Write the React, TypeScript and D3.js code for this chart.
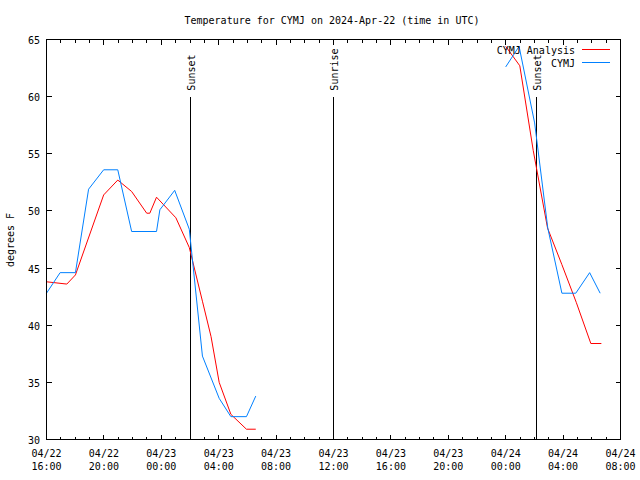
import React from "react";
import * as d3 from "d3";

const TITLE = "Temperature for CYMJ on 2024-Apr-22 (time in UTC)";
const Y_LABEL = "degrees F";
const SERIES_NAMES = ["CYMJ Analysis", "CYMJ"];
const SERIES_COLORS = ["#ff0000", "#0080ff"];

// CYMJ Analysis (red); null marks a data gap
const analysisTimes = [
  "2024-04-22 16:00", "2024-04-22 17:25", "2024-04-22 18:01", "2024-04-22 19:59",
  "2024-04-22 20:58", "2024-04-22 21:56", "2024-04-22 22:59", "2024-04-22 23:12",
  "2024-04-22 23:40", "2024-04-23 01:01", "2024-04-23 01:57", "2024-04-23 02:52",
  "2024-04-23 03:28", "2024-04-23 04:02", "2024-04-23 04:51", "2024-04-23 05:56",
  "2024-04-23 06:35", "2024-04-23 12:00",
  "2024-04-24 00:00", "2024-04-24 00:59", "2024-04-24 01:55", "2024-04-24 02:55",
  "2024-04-24 03:55", "2024-04-24 04:55", "2024-04-24 05:56", "2024-04-24 06:40",
];
const analysisTemps: (number | null)[] = [
  43.8, 43.6, 44.4, 51.4,
  52.7, 51.7, 49.8, 49.8,
  51.2, 49.4, 46.8, 42.1,
  39.0, 35.0, 32.2, 30.9,
  30.9, null,
  64.4, 62.7, 55.3, 48.5,
  45.3, 42.0, 38.4, 38.4,
];

// CYMJ observations (blue)
const obsTimes = [
  "2024-04-22 16:00", "2024-04-22 16:57", "2024-04-22 18:01", "2024-04-22 18:56",
  "2024-04-22 19:59", "2024-04-22 20:58", "2024-04-22 21:56", "2024-04-22 23:40",
  "2024-04-22 23:54", "2024-04-23 00:56", "2024-04-23 01:57", "2024-04-23 02:52",
  "2024-04-23 04:02", "2024-04-23 04:51", "2024-04-23 05:56", "2024-04-23 06:35",
  "2024-04-23 12:00",
  "2024-04-24 00:00", "2024-04-24 00:56", "2024-04-24 02:01", "2024-04-24 02:56",
  "2024-04-24 03:55", "2024-04-24 04:53", "2024-04-24 05:51", "2024-04-24 06:35",
];
const obsTemps: (number | null)[] = [
  42.8, 44.6, 44.6, 51.9,
  53.6, 53.6, 48.2, 48.2,
  50.1, 51.8, 48.4, 37.3,
  33.6, 32.0, 32.0, 33.8,
  null,
  62.6, 64.4, 57.7, 48.5,
  42.8, 42.8, 44.6, 42.8,
];

const eventLabels = ["Sunset", "Sunrise", "Sunset"];
const eventTimes = ["2024-04-23 02:01", "2024-04-23 12:01", "2024-04-24 02:09"];
const eventTopTemp = 60;

const X_START = "2024-04-22 16:00";
const X_END = "2024-04-24 08:00";
const Y_MIN = 30;
const Y_MAX = 65;
const yTickValues = [30, 35, 40, 45, 50, 55, 60, 65];

const parse = d3.utcParse("%Y-%m-%d %H:%M");
const FONT = "'DejaVu Sans Mono', 'Liberation Mono', monospace";

export default function App() {
  const W = 640, H = 480;
  const L = 46.5, R = 620.5, T = 39.5, B = 439.5;

  const x = d3.scaleUtc().domain([parse(X_START)!, parse(X_END)!]).range([L, R]);
  const y = d3.scaleLinear().domain([Y_MIN, Y_MAX]).range([B, T]);

  const majorTicks = d3.utcHour.every(4)!.range(parse(X_START)!, d3.utcHour.offset(parse(X_END)!, 1));
  const minorTicks = d3.utcHour.range(parse(X_START)!, d3.utcHour.offset(parse(X_END)!, 1));
  const fmtDate = d3.utcFormat("%m/%d");
  const fmtTime = d3.utcFormat("%H:%M");

  type P = { t: Date; v: number | null };
  const line = d3
    .line<P>()
    .defined((d) => d.v !== null)
    .x((d) => x(d.t))
    .y((d) => y(d.v as number));

  const analysis: P[] = analysisTimes.map((s, i) => ({ t: parse(s)!, v: analysisTemps[i] }));
  const obs: P[] = obsTimes.map((s, i) => ({ t: parse(s)!, v: obsTemps[i] }));
  const series = [analysis, obs];

  const majLen = 5, minLen = 3;

  return (
    <svg
      width={W}
      height={H}
      style={{ position: "absolute", left: 0, top: 0, background: "#fff" }}
      fontFamily={FONT}
      fontSize={10}
    >
      <rect x={0} y={0} width={W} height={H} fill="#fff" />
      <text x={332} y={24} textAnchor="middle" fill="#000">{TITLE}</text>
      <text transform={`translate(14,240) rotate(-90)`} textAnchor="middle" fill="#000">{Y_LABEL}</text>

      {/* event lines */}
      {eventTimes.map((s, i) => {
        const ex = Math.floor(x(parse(s)!)) + 0.5;
        return (
          <g key={"ev" + i}>
            <line x1={ex} x2={ex} y1={y(eventTopTemp)} y2={B} stroke="#000" strokeWidth={1} shapeRendering="crispEdges" />
            <text transform={`translate(${ex + 4.5},${y(eventTopTemp) - 6}) rotate(-90)`} fill="#000">{eventLabels[i]}</text>
          </g>
        );
      })}

      {/* series */}
      {series.map((d, i) => (
        <path key={"s" + i} d={line(d) || ""} fill="none" stroke={SERIES_COLORS[i]} strokeWidth={1} />
      ))}

      {/* frame */}
      <rect x={L} y={T} width={R - L} height={B - T} fill="none" stroke="#000" strokeWidth={1} shapeRendering="crispEdges" />

      {/* x ticks */}
      {minorTicks.map((t, i) => {
        const tx = x(t);
        return (
          <g key={"mx" + i}>
            <line x1={tx} x2={tx} y1={B} y2={B - minLen} stroke="#000" shapeRendering="crispEdges" />
            <line x1={tx} x2={tx} y1={T} y2={T + minLen} stroke="#000" shapeRendering="crispEdges" />
          </g>
        );
      })}
      {majorTicks.map((t, i) => {
        const tx = x(t);
        return (
          <g key={"Mx" + i}>
            <line x1={tx} x2={tx} y1={B} y2={B - majLen} stroke="#000" shapeRendering="crispEdges" />
            <line x1={tx} x2={tx} y1={T} y2={T + majLen} stroke="#000" shapeRendering="crispEdges" />
            <text x={tx} y={457} textAnchor="middle" fill="#000">{fmtDate(t)}</text>
            <text x={tx} y={470} textAnchor="middle" fill="#000">{fmtTime(t)}</text>
          </g>
        );
      })}

      {/* y ticks */}
      {yTickValues.map((v, i) => {
        const ty = y(v);
        return (
          <g key={"y" + i}>
            <line x1={L} x2={L + majLen} y1={ty} y2={ty} stroke="#000" shapeRendering="crispEdges" />
            <line x1={R} x2={R - majLen} y1={ty} y2={ty} stroke="#000" shapeRendering="crispEdges" />
            <text x={40} y={ty + 4.5} textAnchor="end" fill="#000">{v}</text>
          </g>
        );
      })}

      {/* legend */}
      {SERIES_NAMES.map((n, i) => {
        const ly = 49.5 + i * 12.5;
        return (
          <g key={"lg" + i}>
            <text x={575} y={ly + 4.5} textAnchor="end" fill="#000">{n}</text>
            <line x1={582} x2={610} y1={ly} y2={ly} stroke={SERIES_COLORS[i]} strokeWidth={1} shapeRendering="crispEdges" />
          </g>
        );
      })}
    </svg>
  );
}
